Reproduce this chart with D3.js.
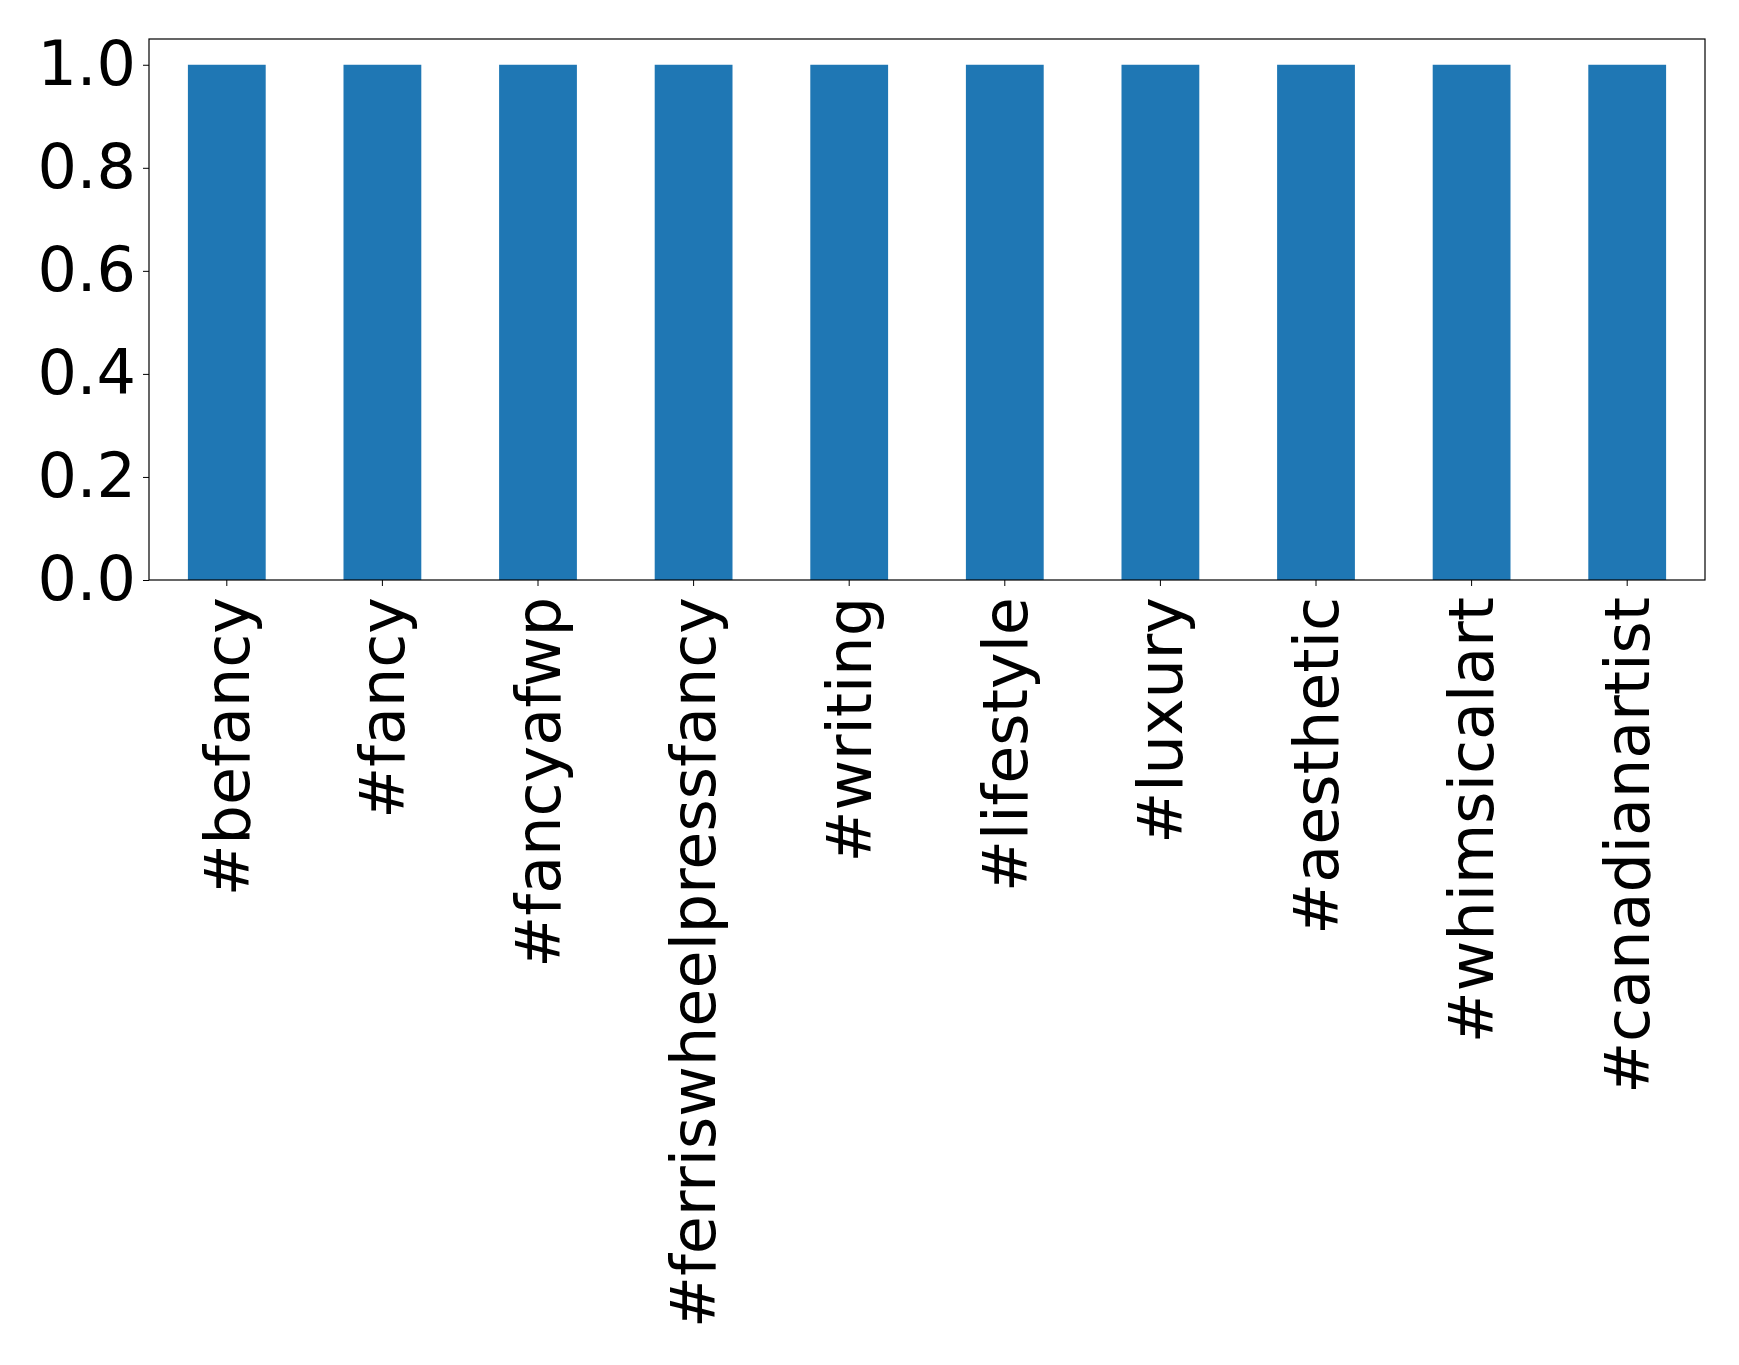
<!DOCTYPE html><html><head><script src="https://cdn.jsdelivr.net/npm/d3@7"></script>
<style>body{margin:0;background:#fff}</style></head><body><svg id="c" width="1739" height="1365"></svg>
<script>
const categories=["#befancy","#fancy","#fancyafwp","#ferriswheelpressfancy","#writing","#lifestyle","#luxury","#aesthetic","#whimsicalart","#canadianartist"];
const values=[1,1,1,1,1,1,1,1,1,1];
const yTicks=[0,0.2,0.4,0.6,0.8,1.0];
const m={l:149,t:39,r:1705,b:580};
const svg=d3.select("#c");
const x=d3.scaleBand().domain(categories).range([m.l,m.r]).paddingInner(0.5).paddingOuter(0.25);
const y=d3.scaleLinear().domain([0,1.05]).range([m.b,m.t]);
svg.selectAll("rect.bar").data(values).join("rect").attr("class","bar")
 .attr("x",(d,i)=>x(categories[i])).attr("width",x.bandwidth())
 .attr("y",d=>y(d)).attr("height",d=>y(0)-y(d)).attr("fill","#1f77b4");
const font="DejaVu Sans";
const ya=svg.append("g").attr("transform",`translate(${m.l},0)`).call(d3.axisLeft(y).tickValues(yTicks).tickFormat(d3.format(".1f")).tickSize(6).tickPadding(7));
ya.select(".domain").remove();
ya.selectAll("text").attr("font-family",font).attr("font-size",62).attr("fill","#000");
const xa=svg.append("g").attr("transform",`translate(0,${m.b})`).call(d3.axisBottom(x).tickSize(6).tickPadding(6));
xa.select(".domain").remove();
xa.selectAll("text").attr("font-family",font).attr("font-size",62).attr("fill","#000")
 .attr("transform","rotate(-90)").attr("text-anchor","end").attr("dx","-17").attr("dy","0.35em").attr("x",0).attr("y",0);
svg.append("rect").attr("x",m.l).attr("y",m.t).attr("width",m.r-m.l).attr("height",m.b-m.t).attr("fill","none").attr("stroke","#000").attr("stroke-width",1.2);
</script></body></html>
